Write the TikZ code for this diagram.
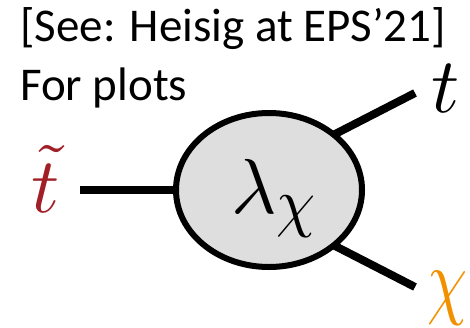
\documentclass[tikz,border=0pt]{standalone}
\usepackage{fontspec}
\setmainfont{Carlito}
\usepackage{graphicx}
\usetikzlibrary{shapes.geometric}
\pgfdeclarelayer{bg}
\pgfsetlayers{bg,main}
\definecolor{tred}{HTML}{A11F27}
\definecolor{chiorange}{HTML}{F29100}
\definecolor{blobgray}{HTML}{DEDEDE}
\begin{document}
\begin{tikzpicture}[x=1pt,y=-1pt,
  leg/.style={line width=8pt},
  blob/.style={ellipse,draw,line width=6pt,fill=blobgray,minimum width=186pt,minimum height=154pt,inner sep=0pt},
  lbl/.style={inner sep=0pt,anchor=base west},
  txt/.style={lbl,font=\fontsize{47}{56}\selectfont}]
\useasboundingbox (0,0) rectangle (470,327);
\node[txt] (ref) at (20,41) {[See: Heisig at EPS’21]};
\node[txt] (plots) at (20,100) {For plots};
\node[blob] (e) at (269,190) {};
\node[lbl] (lam) at (231,213) {\scalebox{7.8}{$\lambda_{\mbox{\scalebox{0.8}[0.85]{$\chi$}}}$}};
\node[lbl,text=tred] (stop) at (31,212) {\scalebox{7.8}{$\tilde t$}};
\node[lbl] (top) at (431,112) {\scalebox{7.8}{$t$}};
\node[lbl,text=chiorange] (chi) at (427,308) {\scalebox{6.4}[8.6]{$\chi$}};
\coordinate (ltip) at (80,190);
\coordinate (ttip) at (415,93);
\coordinate (ctip) at (415,287);
\begin{pgfonlayer}{bg}
\draw[leg] (ltip) -- (e.west);
\draw[leg,shorten <=-8pt] (e.40) -- (ttip);
\draw[leg,shorten <=-8pt] (e.-40) -- (ctip);
\end{pgfonlayer}
\end{tikzpicture}
\end{document}
